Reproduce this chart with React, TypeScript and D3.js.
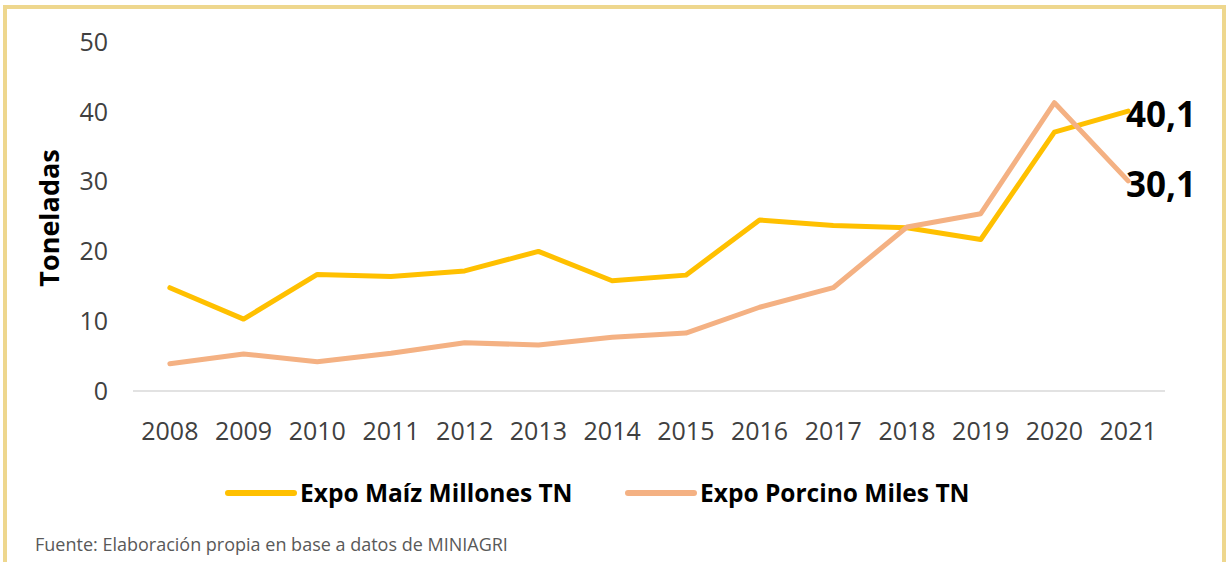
import React from "react";
import * as d3 from "d3";

const years = ["2008","2009","2010","2011","2012","2013","2014","2015","2016","2017","2018","2019","2020","2021"];
const maiz = [14.8, 10.3, 16.7, 16.4, 17.2, 20.0, 15.8, 16.6, 24.5, 23.7, 23.4, 21.7, 37.1, 40.1];
const porcino = [3.9, 5.3, 4.2, 5.4, 6.9, 6.6, 7.7, 8.3, 12.0, 14.8, 23.5, 25.4, 41.3, 30.1];
const yTicks = [0, 10, 20, 30, 40, 50];
const seriesNames = ["Expo Maíz Millones TN", "Expo Porcino Miles TN"];
const endLabels = ["40,1", "30,1"];

const W = 1231;
const H = 562;
const colors = ["#FFC000", "#F4B183"];

export default function App() {
  const x = d3.scalePoint<string>().domain(years).range([133, 1165]).padding(0.5);
  const y = d3.scaleLinear().domain([0, 50]).range([391, 42]);
  const line = d3
    .line<number>()
    .x((_, i) => x(years[i]) as number)
    .y((d) => y(d));
  const font = "'Open Sans', sans-serif";
  const series = [maiz, porcino];
  const last = years.length - 1;

  return (
    <svg
      width={W}
      height={H}
      style={{ position: "absolute", left: 0, top: 0, background: "#fff" }}
      fontFamily={font}
    >
      <rect x={5} y={7} width={1219} height={600} fill="none" stroke="#EED78E" strokeWidth={4} />
      <line x1={133} x2={1165} y1={y(0)} y2={y(0)} stroke="#D9D9D9" strokeWidth={1.5} />
      {yTicks.map((t) => (
        <text key={t} x={108} y={y(t)} dy="0.35em" textAnchor="end" fontSize={25} fill="#404040">
          {t}
        </text>
      ))}
      {years.map((yr) => (
        <text key={yr} x={x(yr)} y={431} dy="0.35em" textAnchor="middle" fontSize={25} fill="#404040">
          {yr}
        </text>
      ))}
      <text
        transform={`translate(50,218) rotate(-90)`}
        textAnchor="middle"
        dy="0.35em"
        fontSize={27}
        fontWeight="bold"
        fill="#000"
      >
        Toneladas
      </text>
      {series.map((s, i) => (
        <path
          key={i}
          d={line(s) as string}
          fill="none"
          stroke={colors[i]}
          strokeWidth={5}
          strokeLinejoin="round"
          strokeLinecap="round"
        />
      ))}
      {series.map((s, i) => (
        <text
          key={i}
          x={1126}
          y={y(s[last]) + 4}
          dy="0.35em"
          fontSize={35}
          fontWeight="bold"
          fill="#000"
        >
          {endLabels[i]}
        </text>
      ))}
      {seriesNames.map((n, i) => {
        const lx = [228, 628][i];
        return (
          <g key={n}>
            <line x1={lx} x2={lx + 66} y1={493} y2={493} stroke={colors[i]} strokeWidth={6} strokeLinecap="round" />
            <text x={lx + 72} y={493} dy="0.35em" fontSize={24.5} fontWeight="bold" fill="#000">
              {n}
            </text>
          </g>
        );
      })}
      <text x={35} y={545} dy="0.35em" fontSize={18} fill="#595959">
        Fuente: Elaboración propia en base a datos de MINIAGRI
      </text>
    </svg>
  );
}
